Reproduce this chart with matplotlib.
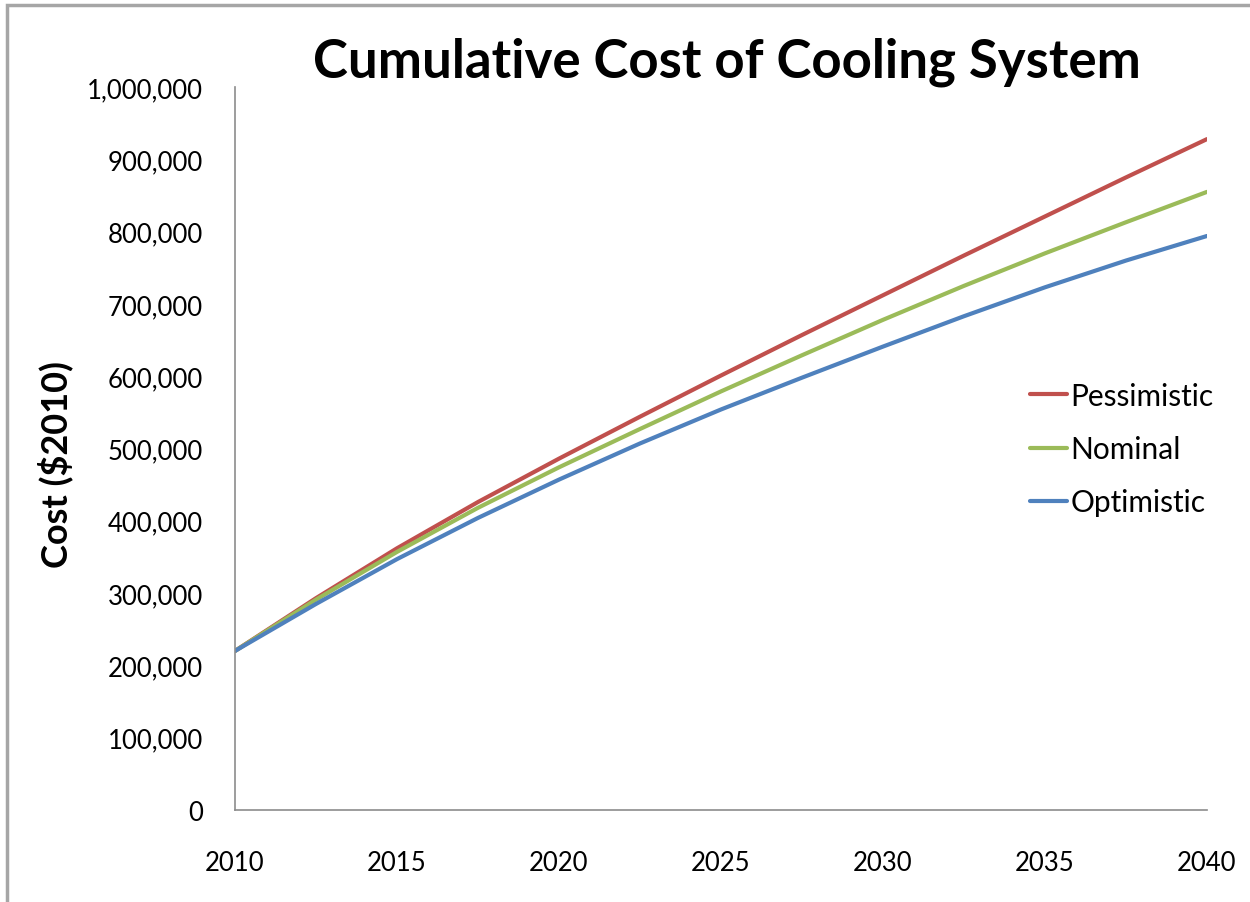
import matplotlib
matplotlib.use("Agg")
import matplotlib.pyplot as plt
from matplotlib.patches import Rectangle
from matplotlib.ticker import FuncFormatter

# datos (costo acumulado, $2010), cada 2.5 anios
anios = [2010, 2012.5, 2015, 2017.5, 2020, 2022.5, 2025,
         2027.5, 2030, 2032.5, 2035, 2037.5, 2040]
pesimista = [220000, 293000, 362000, 426000, 486000, 544000, 601000,
             657000, 712000, 767000, 821000, 875000, 928000]
nominal = [220000, 291000, 357000, 418000, 474000, 527000, 579000,
           629000, 678000, 725000, 770000, 813000, 855000]
optimista = [220000, 285000, 347000, 404000, 457000, 507000, 554000,
             598000, 641000, 683000, 723000, 760000, 794000]

series = ["Pessimistic", "Nominal", "Optimistic"]
colores = ["#C0504D", "#9BBB59", "#4F81BD"]

plt.rcParams["font.family"] = ["Lato", "DejaVu Sans"]

fig = plt.figure(figsize=(12.5, 9.03), dpi=100)
ax = fig.add_axes([0.188, 0.1019, 0.7776, 0.8006])

for nombre, valores, color in zip(series, [pesimista, nominal, optimista], colores):
    ax.plot(anios, valores, color=color, linewidth=3, label=nombre,
            solid_capstyle="round", solid_joinstyle="round")

ax.set_xlim(2010, 2040)
ax.set_ylim(0, 1000000)
ax.set_xticks(range(2010, 2041, 5))
ax.set_yticks(range(0, 1000001, 100000))
ax.yaxis.set_major_formatter(FuncFormatter(lambda v, p: f"{int(v):,}"))
ax.tick_params(axis="both", length=0, labelsize=18.5)
ax.tick_params(axis="y", pad=23)
ax.tick_params(axis="x", pad=29)

for lado in ["top", "right"]:
    ax.spines[lado].set_visible(False)
for lado in ["left", "bottom"]:
    ax.spines[lado].set_color("#8C8C8C")
    ax.spines[lado].set_linewidth(1.2)

# titulo y etiqueta del eje Y
fig.text(55 / 1250, 1 - 465 / 903, "Cost ($2010)", fontsize=26,
         fontweight="bold", rotation=90, ha="center", va="center")
fig.text(0.5816, 0.931, "Cumulative Cost of Cooling System", fontsize=38,
         fontweight="bold", ha="center", va="center")

ax.legend(loc="center left", bbox_to_anchor=(1030 / 1250, 1 - 450 / 903),
          bbox_transform=fig.transFigure, frameon=False, fontsize=21.5,
          handlelength=1.25, handletextpad=0.1, labelspacing=0.84,
          borderpad=0, borderaxespad=0)

# marco del area del grafico
marco = Rectangle((7 / 1250, -0.02), 1.05, 1 - 6 / 903 + 0.02,
                  transform=fig.transFigure, fill=False,
                  edgecolor="#A6A6A6", linewidth=2.5, clip_on=False)
fig.patches.append(marco)

plt.savefig("out.png", dpi=100)
